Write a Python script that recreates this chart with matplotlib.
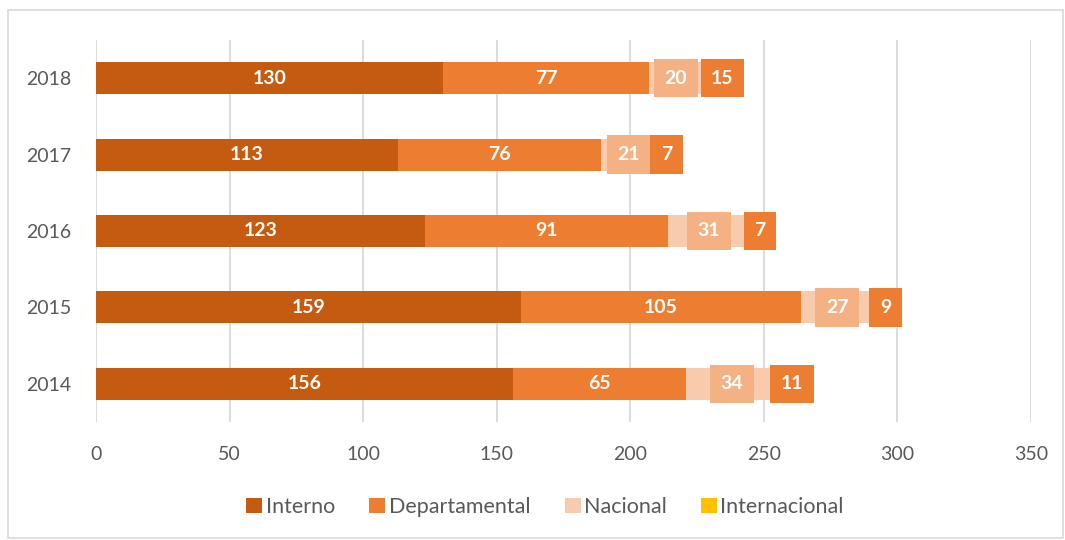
import matplotlib
matplotlib.use("Agg")
import matplotlib.pyplot as plt
from matplotlib.patches import Rectangle

years = ["2014", "2015", "2016", "2017", "2018"]
interno = [156, 159, 123, 113, 130]
departamental = [65, 105, 91, 76, 77]
nacional = [34, 27, 31, 21, 20]
internacional = [11, 9, 7, 7, 15]
series_names = ["Interno", "Departamental", "Nacional", "Internacional"]
colors = ["#C55A11", "#ED7D31", "#F8CBAD", "#FFC000"]
label_box = [None, None, "#F4B183", "#ED7D31"]

plt.rcParams['font.family'] = ['Lato', 'DejaVu Sans']

fig = plt.figure(figsize=(10.65, 5.4), dpi=100)
ax = fig.add_axes([96/1065, 1-422/540, (1031-96)/1065, (422-40)/540])

data = [interno, departamental, nacional, internacional]
left = [0]*len(years)
ypos = list(range(len(years)))
for vals, name, col, bc in zip(data, series_names, colors, label_box):
    ax.barh(ypos, vals, left=left, height=0.42, color=col, label=name, zorder=3)
    for y, v, l in zip(ypos, vals, left):
        cx = l + v/2
        if bc is None:
            ax.text(cx, y, str(v), ha='center', va='center', color='white',
                    fontsize=14, fontweight='bold', zorder=5)
        else:
            ax.text(cx, y, str(v), ha='center', va='center', color='white',
                    fontsize=14, fontweight='bold', zorder=5,
                    bbox=dict(boxstyle='square,pad=0.55', fc=bc, ec='none'))
    left = [a+b for a, b in zip(left, vals)]

ax.set_xlim(0, 350)
ax.set_ylim(-0.5, 4.5)
ax.set_xticks(range(0, 351, 50))
ax.set_yticks(ypos)
ax.set_yticklabels(years)
ax.xaxis.grid(True, color='#D9D9D9', linewidth=1.3, zorder=0)
ax.set_axisbelow(True)
for s in ax.spines.values():
    s.set_visible(False)
ax.tick_params(axis='both', length=0, labelsize=14, colors='#595959')
ax.tick_params(axis='x', pad=17)
ax.tick_params(axis='y', pad=18)

handles, labels = ax.get_legend_handles_labels()
fig.legend(handles, labels, loc='center', bbox_to_anchor=(545/1065, 1-507/540),
           ncol=4, frameon=False, fontsize=15.5, handlelength=0.75, handleheight=0.75,
           handletextpad=0.15, columnspacing=1.6, labelcolor='#595959')

fig.patches.append(Rectangle((8/1065, 2/540), 1055/1065, 528/540, transform=fig.transFigure,
                             fill=False, ec='#D9D9D9', lw=1.2))

fig.savefig("out.png", dpi=100, facecolor='white')
